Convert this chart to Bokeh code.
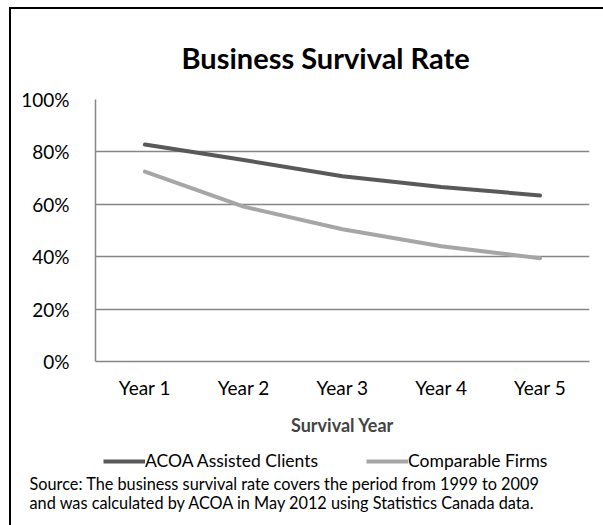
from bokeh.plotting import figure
from bokeh.layouts import column
from bokeh.models import (FactorRange, Range1d, NumeralTickFormatter, Label,
                          Legend, LegendItem, FixedTicker)
from bokeh.embed import file_html
from bokeh.resources import INLINE

years = ["Year 1", "Year 2", "Year 3", "Year 4", "Year 5"]
acoa = [0.828, 0.769, 0.707, 0.666, 0.634]
comparable = [0.725, 0.591, 0.505, 0.440, 0.394]
y_ticks = [0, 0.2, 0.4, 0.6, 0.8, 1.0]
title_text = "Business Survival Rate"
x_title = "Survival Year"
series_names = ["ACOA Assisted Clients", "Comparable Firms"]
source_lines = ["Source: The business survival rate covers the period from 1999 to 2009",
                "and was calculated by ACOA in May 2012 using Statistics Canada data."]

FONT = "Lato"
DARK = "#595959"
LIGHT = "#A6A6A6"

p = figure(frame_width=494, frame_height=262, x_range=FactorRange(*years), y_range=Range1d(0, 1),
           output_backend="svg", toolbar_location=None,
           min_border_left=84, min_border_right=14, min_border_top=90, min_border_bottom=79)
p.frame_align = False
p.background_fill_color = "white"
p.border_fill_color = "white"
p.outline_line_color = None
p.x_range.range_padding = 0
p.x_range.factor_padding = 0

p.title.text = title_text
p.title.text_font = FONT
p.title.text_font_style = "bold"
p.title.text_font_size = "29px"
p.title.align = "left"
p.title.offset = 86
p.title.text_color = "#000000"
p.title.standoff = 49

p.yaxis.ticker = FixedTicker(ticks=y_ticks)
p.yaxis.formatter = NumeralTickFormatter(format="0%")
for ax in (p.xaxis[0], p.yaxis[0]):
    ax.axis_line_color = "#868686"
    ax.axis_line_width = 1.5
    ax.major_tick_line_color = None
    ax.minor_tick_line_color = None
    ax.major_label_text_font = FONT
    ax.major_label_text_font_size = "19px"
    ax.major_label_text_color = "#000000"
p.yaxis.major_label_standoff = 20
p.xaxis.major_label_standoff = 8
p.xaxis.axis_label = x_title
p.xaxis.axis_label_text_font = FONT
p.xaxis.axis_label_text_font_style = "bold"
p.xaxis.axis_label_text_font_size = "18px"
p.xaxis.axis_label_standoff = 12
p.xgrid.grid_line_color = None
p.ygrid.grid_line_color = "#868686"
p.ygrid.grid_line_width = 1.5

p.line(years, acoa, line_color=DARK, line_width=4, line_cap="round")
p.line(years, comparable, line_color=LIGHT, line_width=4, line_cap="round")

# lower panel: legend + source note
QH = 85
q = figure(width=592, height=QH, x_range=Range1d(0, 592), y_range=Range1d(0, QH),
           output_backend="svg", toolbar_location=None, min_border=0,
           x_axis_location=None, y_axis_location=None)
q.frame_align = False
q.grid.visible = False
q.outline_line_color = None
q.background_fill_color = "white"
q.border_fill_color = "white"
idx = list(range(len(years)))
k1 = q.line(idx, acoa, line_color=DARK, line_width=4, visible=False)
k2 = q.line(idx, comparable, line_color=LIGHT, line_width=4, visible=False)
legend = Legend(items=[LegendItem(label=series_names[0], renderers=[k1]),
                       LegendItem(label=series_names[1], renderers=[k2])],
                orientation="horizontal", location=(92, 54),
                glyph_width=42, glyph_height=20, label_standoff=0, spacing=48,
                padding=0, margin=0, border_line_color=None, background_fill_alpha=0,
                inactive_fill_alpha=0,
                label_text_font=FONT, label_text_font_size="17.5px", label_text_color="#000000")
q.add_layout(legend, "center")
for i, line in enumerate(source_lines):
    q.add_layout(Label(x=18, y=42 - 19 * i, text=line, text_font=FONT,
                       text_font_size="16.3px", text_align="left", text_baseline="middle",
                       text_color="#000000"))

layout = column(p, q, spacing=0, margin=(7, 0, 0, 9),
                styles={"border-left": "2px solid #000000", "border-top": "2px solid #000000"})

open("out.html", "w").write(file_html(layout, INLINE))
